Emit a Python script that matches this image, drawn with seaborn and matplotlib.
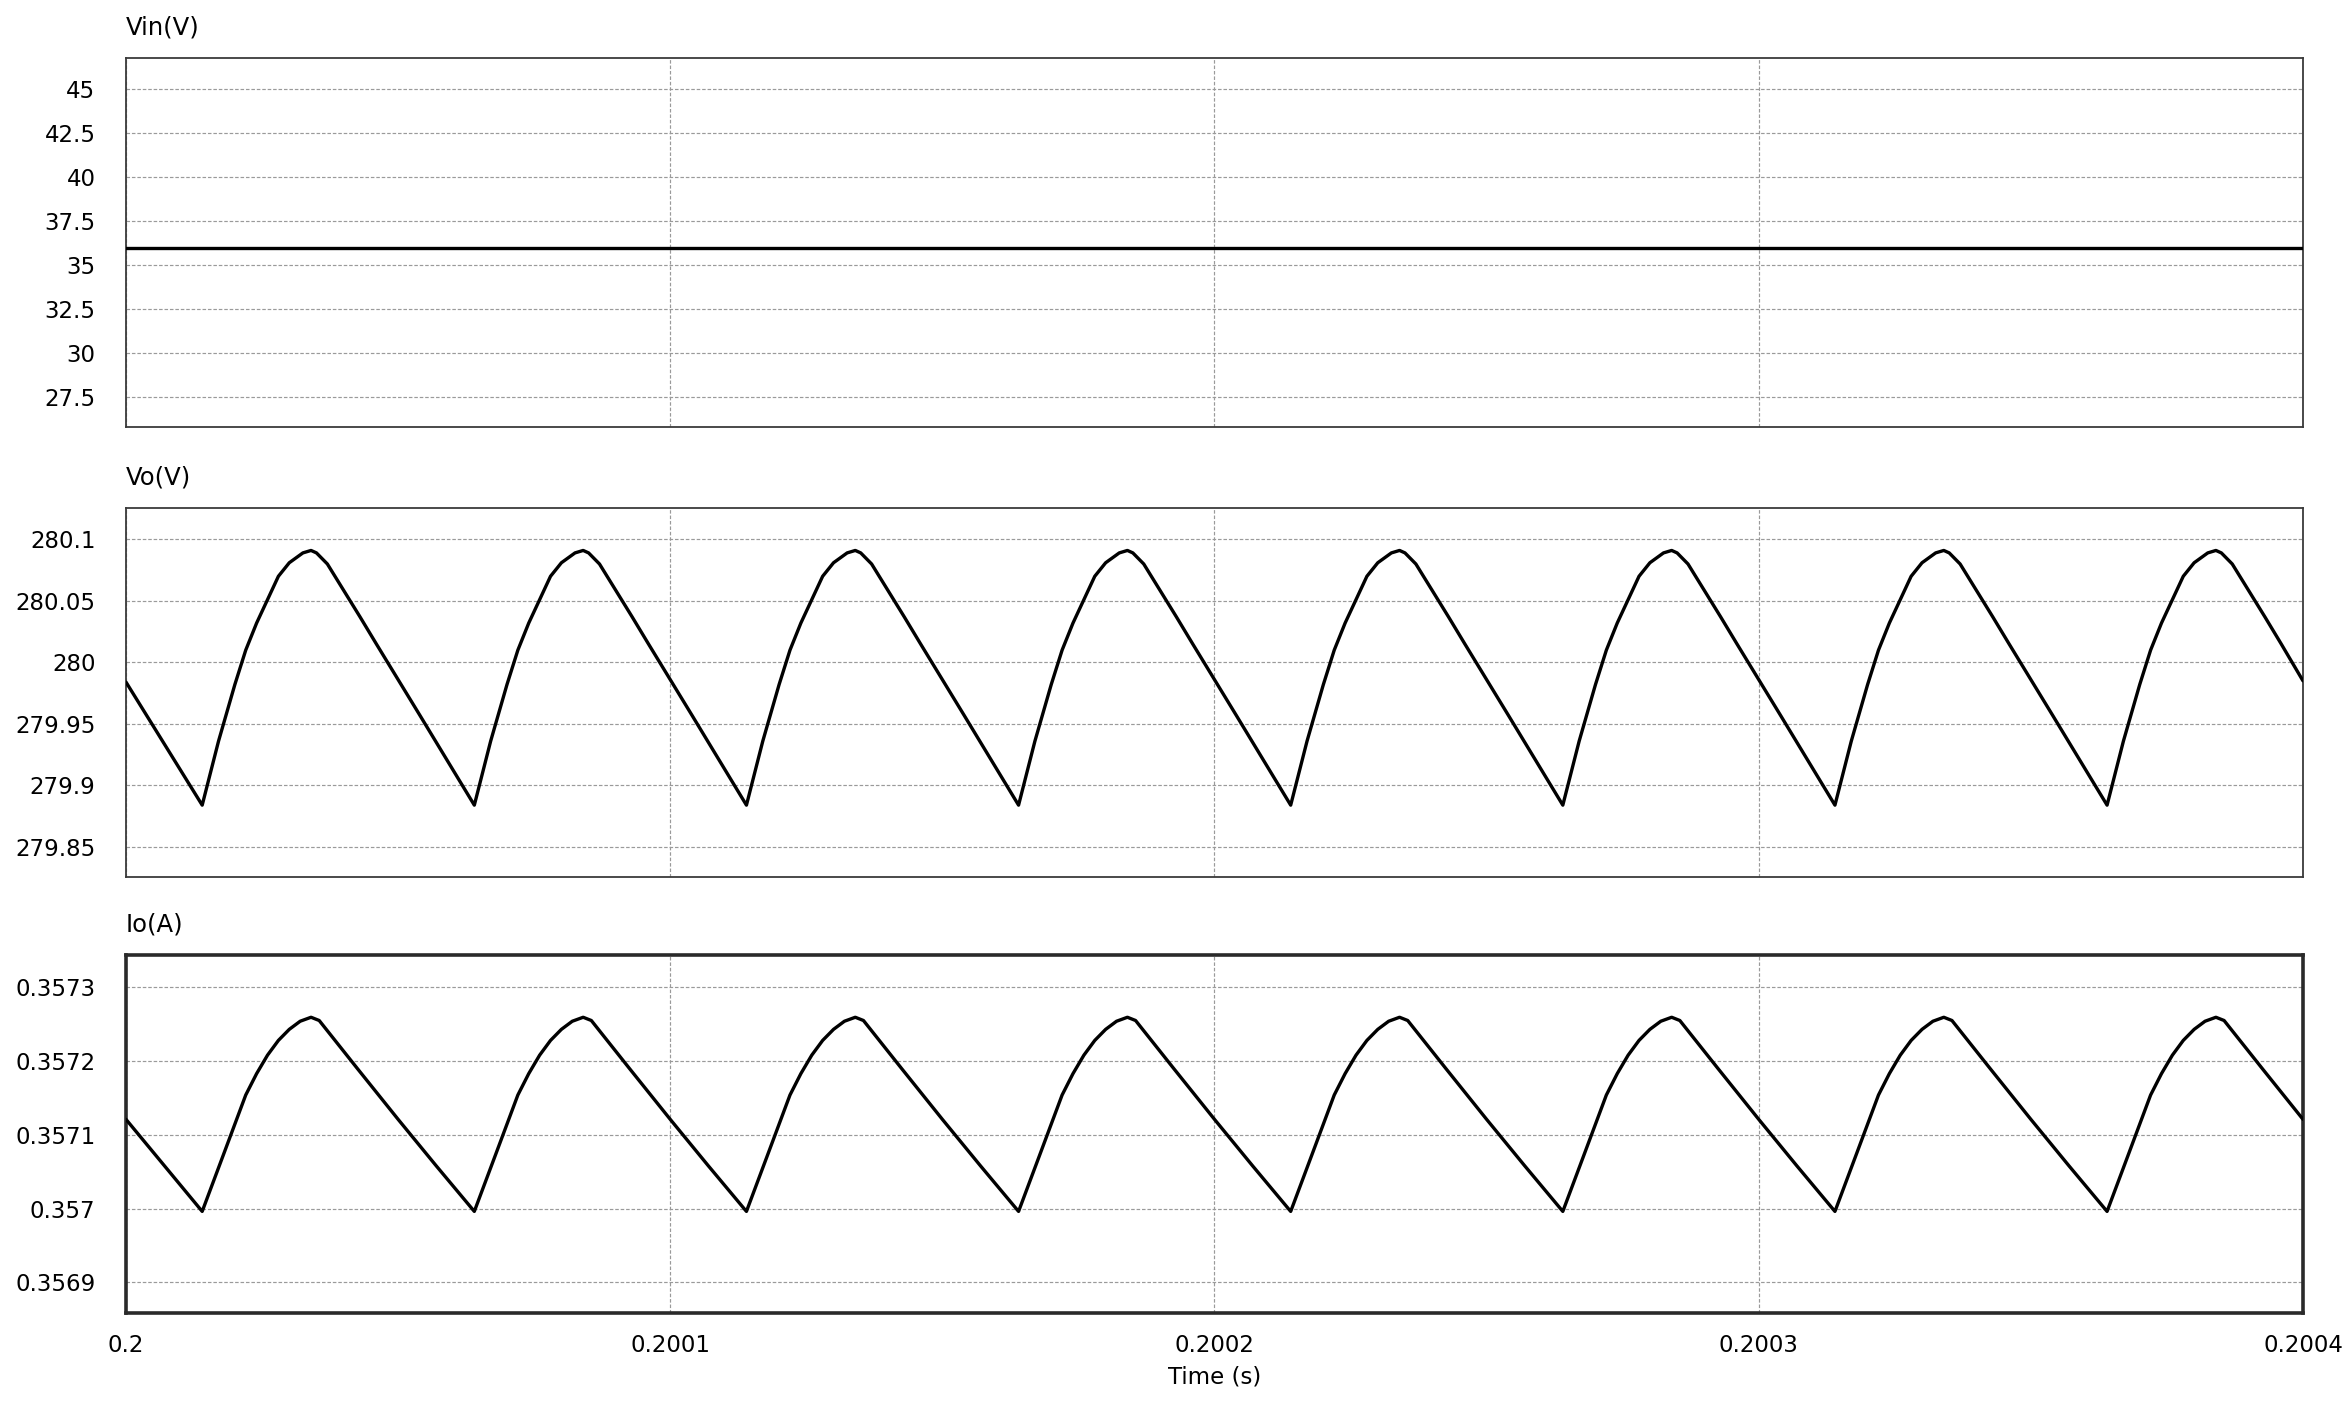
import numpy as np
import pandas as pd
import matplotlib
matplotlib.use("Agg")
import matplotlib.pyplot as plt
import seaborn as sns

# ---------------- data ----------------
# time offsets after t = 0.2 s, in microseconds
vin_t_us = [0, 400]
vin_vals = [36.0, 36.0]

vo_t_us = [0,
           14, 17, 20, 22, 24, 26, 28, 30, 32.5, 34, 35, 37, 43, 46, 54,
           64, 67, 70, 72, 74, 76, 78, 80, 82.5, 84, 85, 87, 93, 96, 104,
           114, 117, 120, 122, 124, 126, 128, 130, 132.5, 134, 135, 137, 143, 146, 154,
           164, 167, 170, 172, 174, 176, 178, 180, 182.5, 184, 185, 187, 193, 196, 204,
           214, 217, 220, 222, 224, 226, 228, 230, 232.5, 234, 235, 237, 243, 246, 254,
           264, 267, 270, 272, 274, 276, 278, 280, 282.5, 284, 285, 287, 293, 296, 304,
           314, 317, 320, 322, 324, 326, 328, 330, 332.5, 334, 335, 337, 343, 346, 354,
           364, 367, 370, 372, 374, 376, 378, 380, 382.5, 384, 385, 387, 393, 396, 400]
vo_vals = [279.984,
           279.884, 279.936, 279.982, 280.010, 280.032, 280.051, 280.070, 280.081, 280.089, 280.091, 280.089, 280.080, 280.037, 280.015, 279.957,
           279.884, 279.936, 279.982, 280.010, 280.032, 280.051, 280.070, 280.081, 280.089, 280.091, 280.089, 280.080, 280.037, 280.015, 279.957,
           279.884, 279.936, 279.982, 280.010, 280.032, 280.051, 280.070, 280.081, 280.089, 280.091, 280.089, 280.080, 280.037, 280.015, 279.957,
           279.884, 279.936, 279.982, 280.010, 280.032, 280.051, 280.070, 280.081, 280.089, 280.091, 280.089, 280.080, 280.037, 280.015, 279.957,
           279.884, 279.936, 279.982, 280.010, 280.032, 280.051, 280.070, 280.081, 280.089, 280.091, 280.089, 280.080, 280.037, 280.015, 279.957,
           279.884, 279.936, 279.982, 280.010, 280.032, 280.051, 280.070, 280.081, 280.089, 280.091, 280.089, 280.080, 280.037, 280.015, 279.957,
           279.884, 279.936, 279.982, 280.010, 280.032, 280.051, 280.070, 280.081, 280.089, 280.091, 280.089, 280.080, 280.037, 280.015, 279.957,
           279.884, 279.936, 279.982, 280.010, 280.032, 280.051, 280.070, 280.081, 280.089, 280.091, 280.089, 280.080, 280.037, 280.015, 279.985]

io_t_us = [0,
           14, 18, 22, 24, 26, 28, 30, 32, 34, 35.5, 42.5, 50, 57,
           64, 68, 72, 74, 76, 78, 80, 82, 84, 85.5, 92.5, 100, 107,
           114, 118, 122, 124, 126, 128, 130, 132, 134, 135.5, 142.5, 150, 157,
           164, 168, 172, 174, 176, 178, 180, 182, 184, 185.5, 192.5, 200, 207,
           214, 218, 222, 224, 226, 228, 230, 232, 234, 235.5, 242.5, 250, 257,
           264, 268, 272, 274, 276, 278, 280, 282, 284, 285.5, 292.5, 300, 307,
           314, 318, 322, 324, 326, 328, 330, 332, 334, 335.5, 342.5, 350, 357,
           364, 368, 372, 374, 376, 378, 380, 382, 384, 385.5, 392.5, 400]
io_vals = [0.3571210,
           0.3569962, 0.3570750, 0.3571540, 0.3571830, 0.3572080, 0.3572280, 0.3572430, 0.3572540, 0.3572594, 0.3572550, 0.3571900, 0.3571210, 0.3570580,
           0.3569962, 0.3570750, 0.3571540, 0.3571830, 0.3572080, 0.3572280, 0.3572430, 0.3572540, 0.3572594, 0.3572550, 0.3571900, 0.3571210, 0.3570580,
           0.3569962, 0.3570750, 0.3571540, 0.3571830, 0.3572080, 0.3572280, 0.3572430, 0.3572540, 0.3572594, 0.3572550, 0.3571900, 0.3571210, 0.3570580,
           0.3569962, 0.3570750, 0.3571540, 0.3571830, 0.3572080, 0.3572280, 0.3572430, 0.3572540, 0.3572594, 0.3572550, 0.3571900, 0.3571210, 0.3570580,
           0.3569962, 0.3570750, 0.3571540, 0.3571830, 0.3572080, 0.3572280, 0.3572430, 0.3572540, 0.3572594, 0.3572550, 0.3571900, 0.3571210, 0.3570580,
           0.3569962, 0.3570750, 0.3571540, 0.3571830, 0.3572080, 0.3572280, 0.3572430, 0.3572540, 0.3572594, 0.3572550, 0.3571900, 0.3571210, 0.3570580,
           0.3569962, 0.3570750, 0.3571540, 0.3571830, 0.3572080, 0.3572280, 0.3572430, 0.3572540, 0.3572594, 0.3572550, 0.3571900, 0.3571210, 0.3570580,
           0.3569962, 0.3570750, 0.3571540, 0.3571830, 0.3572080, 0.3572280, 0.3572430, 0.3572540, 0.3572594, 0.3572550, 0.3571900, 0.3571210]

x_ticks = [0.2, 0.2001, 0.2002, 0.2003, 0.2004]
x_tick_labels = ["0.2", "0.2001", "0.2002", "0.2003", "0.2004"]

vin_ticks = [27.5, 30, 32.5, 35, 37.5, 40, 42.5, 45]
vin_tick_labels = ["27.5", "30", "32.5", "35", "37.5", "40", "42.5", "45"]
vo_ticks = [279.85, 279.9, 279.95, 280.0, 280.05, 280.1]
vo_tick_labels = ["279.85", "279.9", "279.95", "280", "280.05", "280.1"]
io_ticks = [0.3569, 0.3570, 0.3571, 0.3572, 0.3573]
io_tick_labels = ["0.3569", "0.357", "0.3571", "0.3572", "0.3573"]

titles = ["Vin(V)", "Vo(V)", "Io(A)"]
x_label = "Time (s)"

# ---------------- figure ----------------
sns.set_theme(style="white")
plt.rcParams["font.family"] = ["DejaVu Sans"]
FS = 16.5

W, H = 2352, 1409
fig = plt.figure(figsize=(W / 100, H / 100), dpi=100)
fig.patch.set_facecolor("white")

left, right = 126 / W, 2303 / W
boxes = [(58, 427), (508, 877), (955, 1313)]
ylims = [(25.79, 46.78), (279.8256, 280.1255), (0.3568585, 0.3573438)]
yticks = [vin_ticks, vo_ticks, io_ticks]
ylabels = [vin_tick_labels, vo_tick_labels, io_tick_labels]

frames = [
    pd.DataFrame({"t": 0.2 + np.array(vin_t_us) * 1e-6, "v": vin_vals}),
    pd.DataFrame({"t": 0.2 + np.array(vo_t_us) * 1e-6, "v": vo_vals}),
    pd.DataFrame({"t": 0.2 + np.array(io_t_us) * 1e-6, "v": io_vals}),
]

for i, (top, bot) in enumerate(boxes):
    ax = fig.add_axes([left, 1 - bot / H, right - left, (bot - top) / H])
    ax.set_facecolor("white")
    ax.set_xlim(0.2, 0.2004)
    ax.set_ylim(*ylims[i])
    ax.set_xticks(x_ticks)
    ax.set_yticks(yticks[i])
    ax.set_yticklabels(ylabels[i])
    if i == 2:
        ax.set_xticklabels(x_tick_labels)
    else:
        ax.set_xticklabels([])
    ax.grid(True, color="#9a9a9a", linestyle=(0, (3, 1.6)), linewidth=0.85)
    ax.set_axisbelow(True)
    sns.lineplot(data=frames[i], x="t", y="v", ax=ax, color="black",
                 linewidth=2.4, estimator=None, sort=False, zorder=3)
    ax.set_xlabel("")
    ax.set_ylabel("")
    ax.tick_params(axis="both", length=0, labelsize=FS, colors="black")
    ax.tick_params(axis="y", pad=22)
    ax.tick_params(axis="x", pad=15)
    for s in ax.spines.values():
        s.set_visible(True)
        if i == 2:
            s.set_color("#2a2a2a")
            s.set_linewidth(2.6)
        else:
            s.set_color("#3a3a3a")
            s.set_linewidth(1.3)
    ax.annotate(titles[i], xy=(0, 1), xycoords="axes fraction",
                xytext=(0, 22), textcoords="offset points",
                ha="left", va="center", fontsize=17.5, color="black")

fig.text((left + right) / 2, 1 - 1377 / H, x_label, ha="center", va="center",
         fontsize=FS, color="black")

fig.savefig("out.png", dpi=100, facecolor="white")
